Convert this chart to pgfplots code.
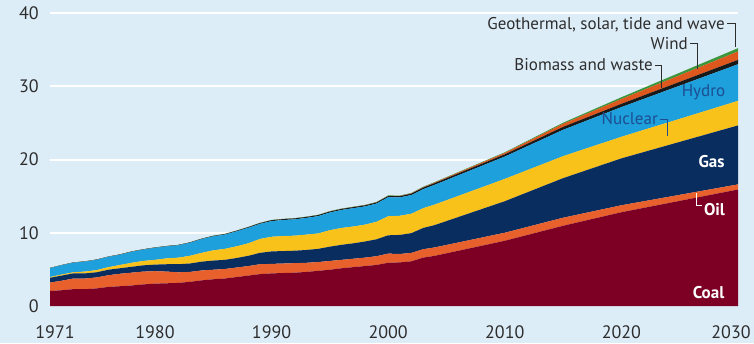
\documentclass[border=0pt]{standalone}
\usepackage{pgfplots}
\pgfplotsset{compat=1.18}
\usepackage{pgfplotstable}
\usepackage{fontspec}
\setmainfont{PT Sans}
\definecolor{bg}{RGB}{221,237,248}
\definecolor{coalc}{RGB}{125,0,36}
\definecolor{oilc}{RGB}{232,96,44}
\definecolor{gasc}{RGB}{10,45,96}
\definecolor{nucc}{RGB}{248,194,26}
\definecolor{hydc}{RGB}{30,160,220}
\definecolor{bioc}{RGB}{25,25,25}
\definecolor{windc}{RGB}{222,88,30}
\definecolor{geoc}{RGB}{60,150,60}
\definecolor{txt}{RGB}{45,45,45}
\definecolor{lab}{RGB}{28,78,145}

\pgfplotstableread{
year coal oil gas nuclear hydro bio wind geo
1971 2.05 1.15 0.65 0.10 1.22 0.02 0.00 0.01
1972 2.15 1.30 0.70 0.15 1.27 0.02 0.00 0.01
1973 2.30 1.45 0.70 0.15 1.31 0.03 0.00 0.01
1974 2.30 1.45 0.70 0.25 1.36 0.03 0.00 0.01
1975 2.40 1.50 0.70 0.30 1.41 0.03 0.00 0.01
1976 2.60 1.60 0.75 0.35 1.41 0.03 0.00 0.01
1977 2.70 1.70 0.75 0.45 1.40 0.04 0.00 0.01
1978 2.80 1.75 0.80 0.55 1.50 0.04 0.00 0.01
1979 2.95 1.75 0.85 0.60 1.55 0.04 0.00 0.01
1980 3.05 1.70 0.90 0.65 1.64 0.04 0.00 0.02
1981 3.10 1.60 1.00 0.80 1.64 0.04 0.00 0.02
1982 3.15 1.45 1.10 0.90 1.69 0.04 0.00 0.02
1983 3.30 1.35 1.15 1.05 1.78 0.05 0.00 0.02
1984 3.50 1.35 1.20 1.20 1.88 0.05 0.00 0.02
1985 3.65 1.30 1.25 1.40 1.91 0.06 0.00 0.03
1986 3.75 1.30 1.25 1.50 1.95 0.07 0.00 0.03
1987 3.95 1.30 1.30 1.60 2.04 0.08 0.00 0.03
1988 4.15 1.30 1.40 1.70 2.13 0.09 0.00 0.03
1989 4.35 1.35 1.55 1.90 2.06 0.10 0.00 0.04
1990 4.45 1.30 1.70 2.00 2.14 0.12 0.00 0.04
1991 4.50 1.30 1.70 2.05 2.19 0.12 0.00 0.04
1992 4.55 1.30 1.70 2.05 2.23 0.13 0.00 0.04
1993 4.65 1.25 1.75 2.10 2.28 0.13 0.00 0.04
1994 4.80 1.20 1.80 2.10 2.37 0.14 0.00 0.04
1995 4.95 1.20 1.95 2.25 2.41 0.14 0.01 0.04
1996 5.15 1.15 2.05 2.30 2.46 0.14 0.01 0.04
1997 5.30 1.15 2.10 2.30 2.50 0.15 0.01 0.04
1998 5.45 1.15 2.20 2.30 2.49 0.15 0.02 0.04
1999 5.60 1.20 2.30 2.40 2.48 0.15 0.02 0.05
2000 5.90 1.25 2.50 2.60 2.60 0.16 0.03 0.05
2001 5.95 1.15 2.60 2.62 2.50 0.17 0.04 0.05
2002 6.10 1.15 2.70 2.65 2.55 0.19 0.05 0.05
2003 6.60 1.15 2.90 2.70 2.60 0.21 0.06 0.06
2004 6.85 1.15 3.05 2.80 2.70 0.23 0.08 0.06
2010 8.90 1.10 4.30 3.05 3.05 0.30 0.20 0.08
2015 10.95 1.10 5.40 3.00 3.60 0.40 0.42 0.15
2020 12.80 0.95 6.40 2.95 4.05 0.45 0.65 0.25
2030 15.90 0.70 8.05 3.35 5.00 0.60 1.15 0.45
}\data

\begin{document}
\begin{tikzpicture}
\path[use as bounding box, fill=bg] (0pt,0pt) rectangle (754pt,343pt);
\begin{axis}[
  at={(50pt,37pt)}, anchor=south west,
  scale only axis, width=688pt, height=293pt,
  xmin=1971, xmax=2030, ymin=0, ymax=40,
  axis line style={draw=none},
  major tick length=0pt,
  tick style={draw=none},
  stack plots=y,
  ytick={10,20,30,40},
  extra y ticks={0},
  extra y tick style={grid=none},
  ymajorgrids,
  grid style={white, line width=2pt},
  xtick={1971,1980,1990,2000,2010,2020,2030},
  xticklabels={\kern10pt 1971,1980,1990,2000,2010,2020,2030\kern14pt},
  /pgf/number format/assume math mode=true,
  /pgf/number format/1000 sep={},
  tick label style={font=\fontsize{18}{18}\selectfont, text=txt},
  xticklabel style={anchor=center, yshift=-26pt},
  yticklabel style={anchor=east, inner sep=0pt, xshift=-11pt},
]
\addplot[fill=coalc, draw=none] table[x=year,y=coal]{\data} \closedcycle;
\addplot[fill=oilc, draw=none] table[x=year,y=oil]{\data} \closedcycle;
\addplot[fill=gasc, draw=none] table[x=year,y=gas]{\data} \closedcycle;
\addplot[fill=nucc, draw=none] table[x=year,y=nuclear]{\data} \closedcycle;
\addplot[fill=hydc, draw=none] table[x=year,y=hydro]{\data} \closedcycle;
\addplot[fill=bioc, draw=none] table[x=year,y=bio]{\data} \closedcycle;
\addplot[fill=windc, draw=none] table[x=year,y=wind]{\data} \closedcycle;
\addplot[fill=geoc, draw=none] table[x=year,y=geo]{\data} \closedcycle;
\end{axis}
\tikzset{lbl/.style={inner sep=0pt, font=\fontsize{17}{17}\selectfont}}
\node[lbl, anchor=east, text=txt] at (725pt,318pt) {Geothermal, solar, tide and wave};
\node[lbl, anchor=east, text=txt] at (688pt,299.7pt) {Wind};
\node[lbl, anchor=east, text=txt] at (653pt,278pt) {Biomass and waste};
\node[lbl, anchor=center, text=lab] at (703.5pt,250.3pt) {Hydro};
\node[lbl, anchor=east, text=lab] at (658pt,224pt) {Nuclear};
\node[lbl, anchor=center, text=white, font=\fontsize{17}{17}\selectfont\bfseries] at (711.5pt,181.3pt) {Gas};
\node[lbl, anchor=center, text=white, font=\fontsize{17}{17}\selectfont\bfseries] at (714.5pt,133pt) {Oil};
\node[lbl, anchor=center, text=white, font=\fontsize{17}{17}\selectfont\bfseries] at (708.5pt,50pt) {Coal};
\draw[txt, line width=0.8pt] (727pt,320pt) -- (735pt,320pt) -- (735pt,296pt);
\draw[txt, line width=0.8pt] (690pt,300pt) -- (697pt,300pt) -- (697pt,274pt);
\draw[txt, line width=0.8pt] (655pt,278pt) -- (661.5pt,278pt) -- (661.5pt,255pt);
\draw[lab, line width=0.8pt] (660pt,224pt) -- (667pt,224pt) -- (667pt,207pt);
\draw[white, line width=0.8pt] (696pt,150pt) -- (696pt,138pt) -- (702pt,138pt);
\end{tikzpicture}
\end{document}
